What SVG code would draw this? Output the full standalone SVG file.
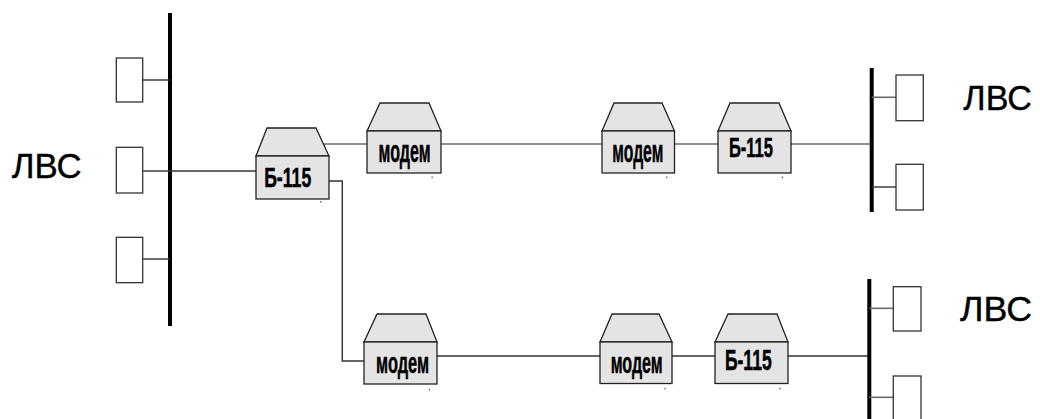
<svg xmlns="http://www.w3.org/2000/svg" width="1040" height="419" viewBox="0 0 1040 419">
<style>
.bus{stroke:#000;stroke-width:4;fill:none}
.ln{stroke:#6a6a6a;stroke-width:1.6;fill:none}
.stub{stroke:#333;stroke-width:1.4;fill:none}
.pc{fill:#fff;stroke:#333;stroke-width:1.3}
.dev{fill:#e4e4e4;stroke:#222;stroke-width:1.3}
.lbl{font-family:"Liberation Sans",Arial,sans-serif;font-weight:bold;fill:#000;stroke:#000;stroke-width:0.5;text-anchor:middle}
.lan{font-family:"Liberation Sans",Arial,sans-serif;font-size:35px;fill:#000;stroke:#000;stroke-width:0.4}
.dot{fill:#555}
</style>
<rect width="1040" height="419" fill="#fff"/>
<g id="connectors">
<line class="bus" x1="170" y1="13" x2="170" y2="326"/>
<line class="stub" x1="142.7" y1="80" x2="170" y2="80"/>
<line class="stub" x1="142.7" y1="171" x2="170" y2="171"/>
<line class="stub" x1="142.7" y1="259" x2="170" y2="259"/>
<line class="stub" x1="170" y1="171" x2="256" y2="171"/>
<line class="ln" x1="323" y1="144" x2="367" y2="144"/>
<line class="ln" x1="441" y1="144" x2="602" y2="144"/>
<line class="ln" x1="674.5" y1="144" x2="718" y2="144"/>
<line class="ln" x1="791" y1="144" x2="871.7" y2="144"/>
<line class="bus" x1="871.7" y1="68" x2="871.7" y2="212"/>
<line class="ln" x1="871.7" y1="97.3" x2="896" y2="97.3"/>
<line class="stub" x1="871.7" y1="187" x2="896" y2="187"/>
<polyline class="stub" points="329,181 342.3,181 342.3,361 364,361"/>
<line class="stub" x1="437" y1="356" x2="600" y2="356"/>
<line class="stub" x1="672" y1="356" x2="715" y2="356"/>
<line class="stub" x1="788" y1="356" x2="869.3" y2="356"/>
<line class="bus" x1="869.3" y1="279" x2="869.3" y2="419"/>
<line class="ln" x1="869.3" y1="308.3" x2="893.3" y2="308.3"/>
<line class="ln" x1="869.3" y1="397.3" x2="893.3" y2="397.3"/>
</g>
<g id="lan-left">
<text class="lan" x="11.7" y="178.3" textLength="70" lengthAdjust="spacingAndGlyphs">ЛВС</text>
<rect id="pc-l1" class="pc" x="116.3" y="58" width="26.4" height="44"/>
<rect id="pc-l2" class="pc" x="116.3" y="147.3" width="26.4" height="45.7"/>
<rect id="pc-l3" class="pc" x="116.3" y="237.3" width="26.4" height="45.4"/>
</g>
<g id="lan-right-top">
<text class="lan" x="963.3" y="109.5" textLength="68.5" lengthAdjust="spacingAndGlyphs">ЛВС</text>
<rect id="pc-r1" class="pc" x="896" y="75" width="27.3" height="45.7"/>
<rect id="pc-r2" class="pc" x="896" y="164.3" width="27.3" height="45.7"/>
</g>
<g id="lan-right-bottom">
<text class="lan" x="960" y="321" textLength="72" lengthAdjust="spacingAndGlyphs">ЛВС</text>
<rect id="pc-r3" class="pc" x="893.3" y="286.7" width="27.7" height="44.3"/>
<rect id="pc-r4" class="pc" x="893.3" y="376" width="27.7" height="50"/>
</g>
<g id="b115-left">
<polygon class="dev" points="256,156 267,128 316,128 329,156"/>
<rect class="dev" x="256" y="156" width="73" height="43"/>
<text class="lbl" x="287.7" y="187.3" font-size="27" textLength="47" lengthAdjust="spacingAndGlyphs">Б-115</text>
<rect class="dot" x="320.2" y="201" width="1.2" height="1.6"/>
</g>
<g id="modem-1">
<polygon class="dev" points="367,131 380,103 429,103 441,131"/>
<rect class="dev" x="367" y="131" width="74" height="42"/>
<text class="lbl" x="404.5" y="162.3" font-size="32" textLength="52" lengthAdjust="spacingAndGlyphs">модем</text>
<rect class="dot" x="431.5" y="176.5" width="1.2" height="1.6"/>
</g>
<g id="modem-2">
<polygon class="dev" points="602,131 614,103 662,103 674.5,131"/>
<rect class="dev" x="602" y="131" width="72.5" height="42"/>
<text class="lbl" x="637.8" y="162" font-size="32" textLength="51" lengthAdjust="spacingAndGlyphs">модем</text>
<rect class="dot" x="666.2" y="176.5" width="1.2" height="1.6"/>
</g>
<g id="b115-right-top">
<polygon class="dev" points="718,131 730,103 779,103 791,131"/>
<rect class="dev" x="718" y="131" width="73" height="42"/>
<text class="lbl" x="750.9" y="156.7" font-size="28" textLength="44" lengthAdjust="spacingAndGlyphs">Б-115</text>
<rect class="dot" x="781.8" y="176.5" width="1.2" height="1.6"/>
</g>
<g id="modem-3">
<polygon class="dev" points="364,342 377,314 426,314 437,342"/>
<rect class="dev" x="364" y="342" width="73" height="42"/>
<text class="lbl" x="402.5" y="372.7" font-size="29" textLength="53" lengthAdjust="spacingAndGlyphs">модем</text>
<rect class="dot" x="428.8" y="388.8" width="1.2" height="1.6"/>
</g>
<g id="modem-4">
<polygon class="dev" points="600,342 612,314 659,314 672,342"/>
<rect class="dev" x="600" y="342" width="72" height="41.5"/>
<text class="lbl" x="636.7" y="372.7" font-size="29" textLength="52" lengthAdjust="spacingAndGlyphs">модем</text>
<rect class="dot" x="664.5" y="387.8" width="1.2" height="1.6"/>
</g>
<g id="b115-right-bottom">
<polygon class="dev" points="715,342 728,314 777,314 788,342"/>
<rect class="dev" x="715" y="342" width="73" height="41.5"/>
<text class="lbl" x="748.3" y="370" font-size="29" textLength="46.7" lengthAdjust="spacingAndGlyphs">Б-115</text>
<rect class="dot" x="779.5" y="387.8" width="1.2" height="1.6"/>
</g>
</svg>
